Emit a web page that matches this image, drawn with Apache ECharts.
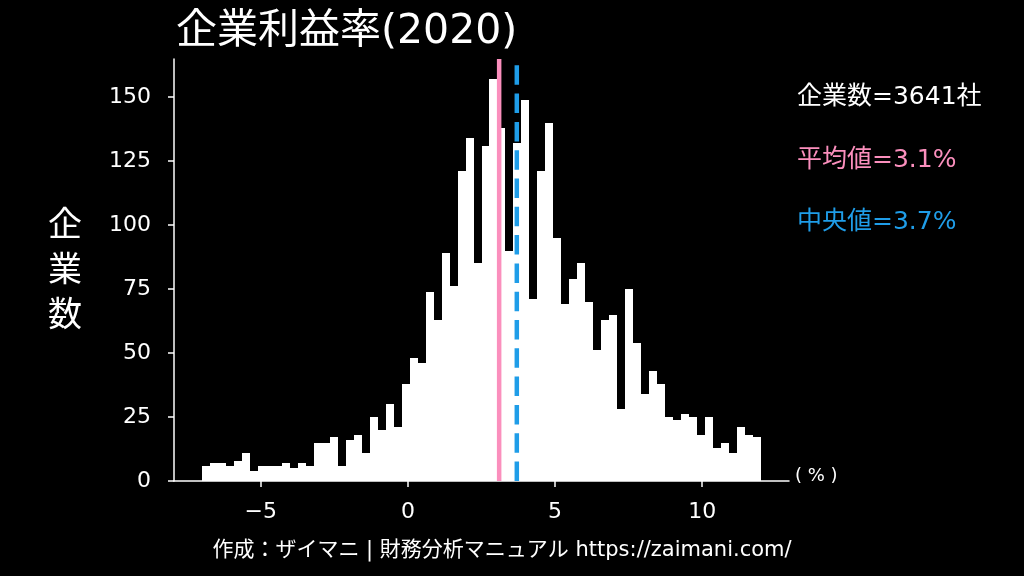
<!DOCTYPE html>
<html>
<head>
<meta charset="utf-8">
<script src="https://cdn.jsdelivr.net/npm/echarts@6/dist/echarts.min.js"></script>
<style>
html,body{margin:0;padding:0;background:#000;}
#chart{width:1024px;height:576px;}
</style>
</head>
<body>
<div id="chart"></div>
<script>
// ---- data ----
const binMin = -7;
const binMax = 12;
const counts = [6,7,7,6,8,11,4,6,6,6,7,5,7,6,15,15,17,6,
  16,18,11,25,20,30,21,38,48,46,74,63,89,76,121,134,85,131,
  157,138,90,132,149,71,121,140,95,69,79,85,70,51,63,65,28,
  75,54,34,43,38,25,24,26,25,18,25,13,15,11,21,18,17];
const meanValue = 3.1;
const medianValue = 3.7;
const companyCount = 3641;
const xTicks = [-5, 0, 5, 10];
const xTickLabels = ['\u22125', '0', '5', '10'];
const yTicks = [0, 25, 50, 75, 100, 125, 150];

const FONT = '"DejaVu Sans", "Noto Sans CJK JP", sans-serif';
const PINK = '#fb8fbd';
const BLUE = '#1f9de8';

const binWidth = (binMax - binMin) / counts.length;
const histData = counts.map((c, i) => [binMin + i * binWidth, binMin + (i + 1) * binWidth, c]);
const yMax = Math.max(...counts) * 1.05;
const xPad = (binMax - binMin) * 0.05;

const chart = echarts.init(document.getElementById('chart'));
chart.setOption({
  backgroundColor: '#000',
  animation: false,
  grid: {left: 174, right: 235, top: 59, bottom: 95},
  xAxis: {
    type: 'value', min: binMin - xPad, max: binMax + xPad,
    splitLine: {show: false},
    axisLine: {show: true, onZero: false, lineStyle: {color: '#ffffff', width: 1.5}},
    axisTick: {show: true, customValues: xTicks, length: 6, lineStyle: {color: '#ffffff', width: 1.5}},
    axisLabel: {
      customValues: xTicks, color: '#ffffff', fontFamily: FONT, fontSize: 22, margin: 20,
      formatter: v => xTickLabels[xTicks.indexOf(v)]
    }
  },
  yAxis: {
    type: 'value', min: 0, max: yMax,
    splitLine: {show: false},
    axisLine: {show: true, onZero: false, lineStyle: {color: '#ffffff', width: 1.5}},
    axisTick: {show: true, customValues: yTicks, length: 6, lineStyle: {color: '#ffffff', width: 1.5}},
    axisLabel: {customValues: yTicks, color: '#ffffff', fontFamily: FONT, fontSize: 22, margin: 23, padding: [3, 0, 0, 0]}
  },
  series: [
    {
      type: 'custom',
      data: histData,
      encode: {x: [0, 1], y: 2},
      renderItem: function (params, api) {
        const p0 = api.coord([api.value(0), api.value(2)]);
        const p1 = api.coord([api.value(1), 0]);
        const x0 = Math.round(p0[0]), x1 = Math.round(p1[0]);
        const y0 = Math.round(p0[1]), y1 = Math.round(p1[1]);
        return {
          type: 'rect',
          shape: {x: x0, y: y0, width: x1 - x0, height: y1 - y0},
          style: {fill: '#ffffff'}
        };
      },
      z: 2
    },
    {
      type: 'line', data: [[meanValue, 0], [meanValue, yMax]],
      symbol: 'none', lineStyle: {color: PINK, width: 4.5}, z: 3
    },
    {
      type: 'line', data: [[medianValue, 0], [medianValue, yMax]],
      symbol: 'none', lineStyle: {color: BLUE, width: 4.5, type: [19.5, 8.8], cap: 'butt'}, z: 4
    }
  ],
  graphic: [
    {type: 'text', left: 176, top: 12, style: {text: '企業利益率(2020)', fill: '#fff', font: '41px ' + FONT}},
    {type: 'text', x: 65, y: 272, style: {text: '企\n業\n数', fill: '#fff', font: '34px ' + FONT, lineHeight: 45, align: 'center', verticalAlign: 'middle'}},
    {type: 'text', x: 797, y: 97, style: {text: '企業数=' + companyCount + '社', fill: '#fff', font: '25px ' + FONT, verticalAlign: 'middle'}},
    {type: 'text', x: 797, y: 160, style: {text: '平均値=' + meanValue + '%', fill: PINK, font: '25px ' + FONT, verticalAlign: 'middle'}},
    {type: 'text', x: 797, y: 222, style: {text: '中央値=' + medianValue + '%', fill: BLUE, font: '25px ' + FONT, verticalAlign: 'middle'}},
    {type: 'text', x: 795, y: 476, style: {text: '( % )', fill: '#fff', font: '18px ' + FONT, verticalAlign: 'middle'}},
    {type: 'text', x: 502, y: 551, style: {text: '作成：ザイマニ | 財務分析マニュアル https://zaimani.com/', fill: '#fff', font: '21px ' + FONT, align: 'center', verticalAlign: 'middle'}}
  ]
});
</script>
</body>
</html>
